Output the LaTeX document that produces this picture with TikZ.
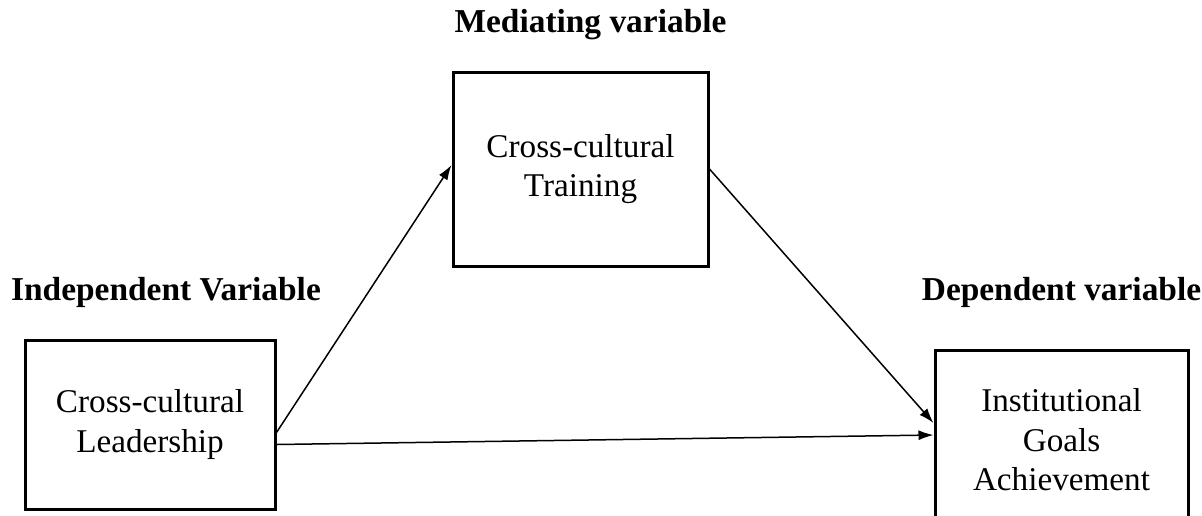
\documentclass[tikz,border=0pt]{standalone}
\usepackage{fontspec}
\setmainfont{Liberation Serif}
\usetikzlibrary{arrows.meta,positioning}

\begin{document}
\begin{tikzpicture}[>={Latex[length=7.5pt,width=5pt]}, x=0.5pt, y=-0.5pt]
        \tikzset{block/.style= {draw, rectangle, line width=1.5pt, align=center, font=\fontsize{16.6pt}{19.8pt}\selectfont},
        head/.style= {font=\bfseries\fontsize{16.7pt}{20pt}\selectfont, inner sep=0pt},
        link/.style= {draw, ->, line width=0.75pt},
        }
        \useasboundingbox (0,0) rectangle (1202,515);
        \clip (0,0) rectangle (1202,515);
        \node [block, minimum width=125pt, minimum height=84.5pt] (lead) at (150,424.5) {Cross-cultural\\Leadership};
        \node [block, minimum width=127.5pt, minimum height=97pt] (train) at (580.5,169) {Cross-cultural\\Training};
        \node [block, minimum width=126.5pt, minimum height=90pt] (goals) at (1061.5,440) {Institutional\\Goals\\Achievement};
        \node [head, above=15pt of lead, xshift=8pt] (lead_lbl) {Independent Variable};
        \node [head, above=15pt of train, xshift=5pt] (train_lbl) {Mediating variable};
        \node [head, above=20pt of goals] (goals_lbl) {Dependent variable};
%%% paths
        \path ([yshift=-4pt]lead.east) edge[link] ([yshift=2pt]train.west)
              (train.east) edge[link] ([yshift=8.5pt]goals.west)
              ([yshift=-10pt]lead.east) edge[link] ([yshift=2.5pt]goals.west)
              ;
\end{tikzpicture}
\end{document}
